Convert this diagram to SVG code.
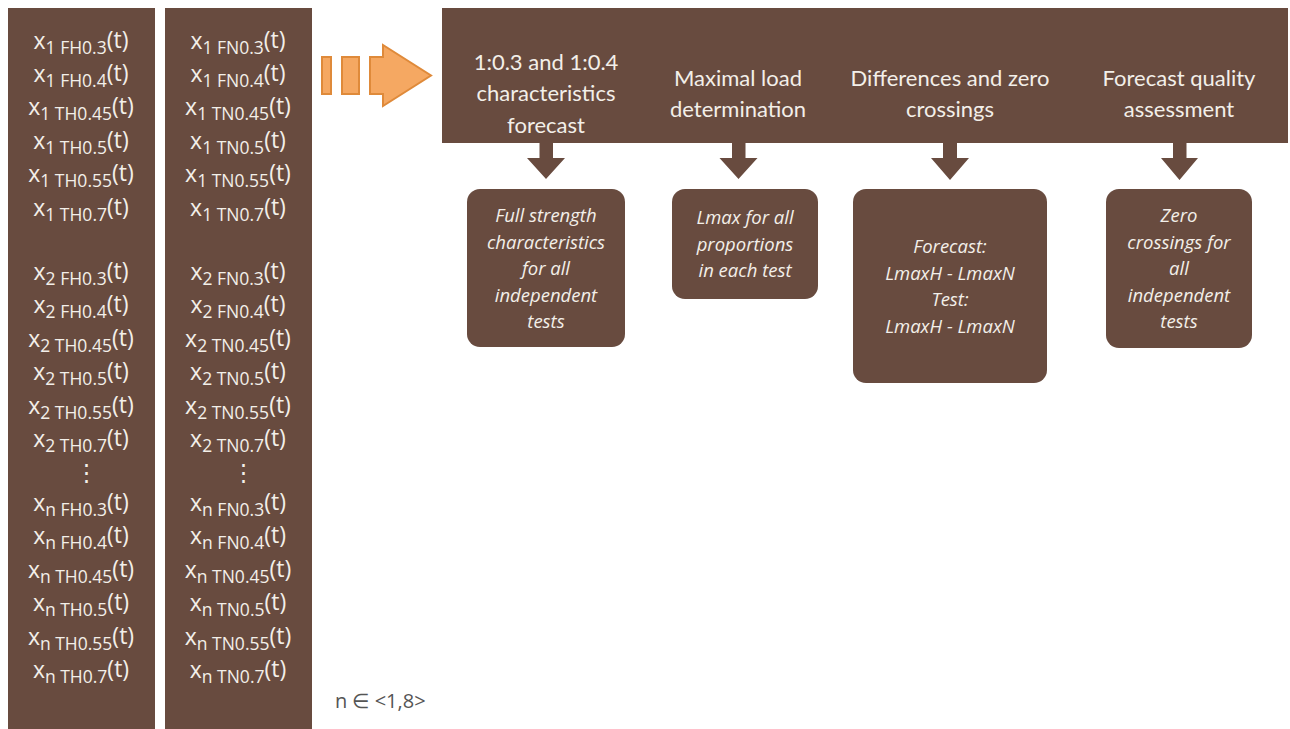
<svg xmlns="http://www.w3.org/2000/svg" width="1290" height="729" viewBox="0 0 1290 729">
<style>
.bg{fill:#684b3f}
.t{font-family:"Open Sans",Lato,sans-serif;fill:#f3efe9;text-anchor:middle}
.h{font-family:Lato,"Open Sans",sans-serif;font-size:22px}
.b{font-size:18.5px;font-style:italic;font-weight:500}
.v{font-size:23px}
.s{font-size:17.5px}
.note{font-family:"Open Sans",Lato,sans-serif;font-size:20px;fill:#555}
</style>
<rect width="1290" height="729" fill="#fff"/>
<g id="col-H">
<rect class="bg" x="8" y="8" width="147" height="730"/>
<text class="t v" x="81"><tspan y="49">x</tspan><tspan class="s" dy="5">1 FH0.3</tspan><tspan dy="-6">(t)</tspan></text>
<text class="t v" x="81"><tspan y="82">x</tspan><tspan class="s" dy="5">1 FH0.4</tspan><tspan dy="-6">(t)</tspan></text>
<text class="t v" x="81"><tspan y="115">x</tspan><tspan class="s" dy="5">1 TH0.45</tspan><tspan dy="-6">(t)</tspan></text>
<text class="t v" x="81"><tspan y="149">x</tspan><tspan class="s" dy="5">1 TH0.5</tspan><tspan dy="-6">(t)</tspan></text>
<text class="t v" x="81"><tspan y="182">x</tspan><tspan class="s" dy="5">1 TH0.55</tspan><tspan dy="-6">(t)</tspan></text>
<text class="t v" x="81"><tspan y="216">x</tspan><tspan class="s" dy="5">1 TH0.7</tspan><tspan dy="-6">(t)</tspan></text>
<text class="t v" x="81"><tspan y="280">x</tspan><tspan class="s" dy="5">2 FH0.3</tspan><tspan dy="-6">(t)</tspan></text>
<text class="t v" x="81"><tspan y="313">x</tspan><tspan class="s" dy="5">2 FH0.4</tspan><tspan dy="-6">(t)</tspan></text>
<text class="t v" x="81"><tspan y="347">x</tspan><tspan class="s" dy="5">2 TH0.45</tspan><tspan dy="-6">(t)</tspan></text>
<text class="t v" x="81"><tspan y="380">x</tspan><tspan class="s" dy="5">2 TH0.5</tspan><tspan dy="-6">(t)</tspan></text>
<text class="t v" x="81"><tspan y="414">x</tspan><tspan class="s" dy="5">2 TH0.55</tspan><tspan dy="-6">(t)</tspan></text>
<text class="t v" x="81"><tspan y="447">x</tspan><tspan class="s" dy="5">2 TH0.7</tspan><tspan dy="-6">(t)</tspan></text>
<text class="t v" x="86" y="480">⋮</text>
<text class="t v" x="81"><tspan y="511">x</tspan><tspan class="s" dy="5">n FH0.3</tspan><tspan dy="-6">(t)</tspan></text>
<text class="t v" x="81"><tspan y="544">x</tspan><tspan class="s" dy="5">n FH0.4</tspan><tspan dy="-6">(t)</tspan></text>
<text class="t v" x="81"><tspan y="578">x</tspan><tspan class="s" dy="5">n TH0.45</tspan><tspan dy="-6">(t)</tspan></text>
<text class="t v" x="81"><tspan y="611">x</tspan><tspan class="s" dy="5">n TH0.5</tspan><tspan dy="-6">(t)</tspan></text>
<text class="t v" x="81"><tspan y="645">x</tspan><tspan class="s" dy="5">n TH0.55</tspan><tspan dy="-6">(t)</tspan></text>
<text class="t v" x="81"><tspan y="678">x</tspan><tspan class="s" dy="5">n TH0.7</tspan><tspan dy="-6">(t)</tspan></text>
</g>
<g id="col-N">
<rect class="bg" x="165" y="8" width="147" height="730"/>
<text class="t v" x="238"><tspan y="49">x</tspan><tspan class="s" dy="5">1 FN0.3</tspan><tspan dy="-6">(t)</tspan></text>
<text class="t v" x="238"><tspan y="82">x</tspan><tspan class="s" dy="5">1 FN0.4</tspan><tspan dy="-6">(t)</tspan></text>
<text class="t v" x="238"><tspan y="115">x</tspan><tspan class="s" dy="5">1 TN0.45</tspan><tspan dy="-6">(t)</tspan></text>
<text class="t v" x="238"><tspan y="149">x</tspan><tspan class="s" dy="5">1 TN0.5</tspan><tspan dy="-6">(t)</tspan></text>
<text class="t v" x="238"><tspan y="182">x</tspan><tspan class="s" dy="5">1 TN0.55</tspan><tspan dy="-6">(t)</tspan></text>
<text class="t v" x="238"><tspan y="216">x</tspan><tspan class="s" dy="5">1 TN0.7</tspan><tspan dy="-6">(t)</tspan></text>
<text class="t v" x="238"><tspan y="280">x</tspan><tspan class="s" dy="5">2 FN0.3</tspan><tspan dy="-6">(t)</tspan></text>
<text class="t v" x="238"><tspan y="313">x</tspan><tspan class="s" dy="5">2 FN0.4</tspan><tspan dy="-6">(t)</tspan></text>
<text class="t v" x="238"><tspan y="347">x</tspan><tspan class="s" dy="5">2 TN0.45</tspan><tspan dy="-6">(t)</tspan></text>
<text class="t v" x="238"><tspan y="380">x</tspan><tspan class="s" dy="5">2 TN0.5</tspan><tspan dy="-6">(t)</tspan></text>
<text class="t v" x="238"><tspan y="414">x</tspan><tspan class="s" dy="5">2 TN0.55</tspan><tspan dy="-6">(t)</tspan></text>
<text class="t v" x="238"><tspan y="447">x</tspan><tspan class="s" dy="5">2 TN0.7</tspan><tspan dy="-6">(t)</tspan></text>
<text class="t v" x="243" y="480">⋮</text>
<text class="t v" x="238"><tspan y="511">x</tspan><tspan class="s" dy="5">n FN0.3</tspan><tspan dy="-6">(t)</tspan></text>
<text class="t v" x="238"><tspan y="544">x</tspan><tspan class="s" dy="5">n FN0.4</tspan><tspan dy="-6">(t)</tspan></text>
<text class="t v" x="238"><tspan y="578">x</tspan><tspan class="s" dy="5">n TN0.45</tspan><tspan dy="-6">(t)</tspan></text>
<text class="t v" x="238"><tspan y="611">x</tspan><tspan class="s" dy="5">n TN0.5</tspan><tspan dy="-6">(t)</tspan></text>
<text class="t v" x="238"><tspan y="645">x</tspan><tspan class="s" dy="5">n TN0.55</tspan><tspan dy="-6">(t)</tspan></text>
<text class="t v" x="238"><tspan y="678">x</tspan><tspan class="s" dy="5">n TN0.7</tspan><tspan dy="-6">(t)</tspan></text>
</g>
<g id="big-arrow" fill="#f5a862" stroke="#df8a3a" stroke-width="2">
<rect x="322" y="57" width="9" height="37"/>
<rect x="342" y="57" width="17" height="37"/>
<path d="M370,57 H383 V45 L431,75.5 L383,106 V94 H370 Z"/>
</g>
<g id="header">
<rect class="bg" x="442" y="8" width="846" height="135"/>
<text class="t h" x="546" y="70">1:0.3 and 1:0.4</text>
<text class="t h" x="546" y="101">characteristics</text>
<text class="t h" x="546" y="133">forecast</text>
<text class="t h" x="738" y="86">Maximal load</text>
<text class="t h" x="738" y="117">determination</text>
<text class="t h" x="950" y="86">Differences and zero</text>
<text class="t h" x="950" y="117">crossings</text>
<text class="t h" x="1179" y="86">Forecast quality</text>
<text class="t h" x="1179" y="117">assessment</text>
</g>
<g id="connectors" class="bg">
<path d="M539.5,143 H553 V158 H565 L546,179 L527,158 H539.5 Z"/>
<path d="M732,143 H745.5 V158 H757.5 L738.5,179 L719.5,158 H732 Z"/>
<path d="M943,143 H957 V158 H969 L950,180 L931,158 H943 Z"/>
<path d="M1173,143 H1186.5 V158 H1198 L1179.5,180 L1161,158 H1173 Z"/>
</g>
<g id="box1">
<rect class="bg" x="467" y="189" width="158" height="158" rx="13"/>
<text class="t b" x="546" y="222">Full strength</text>
<text class="t b" x="546" y="249">characteristics</text>
<text class="t b" x="546" y="275">for all</text>
<text class="t b" x="546" y="302">independent</text>
<text class="t b" x="546" y="328">tests</text>
</g>
<g id="box2">
<rect class="bg" x="672" y="189" width="146" height="110" rx="13"/>
<text class="t b" x="745" y="224">Lmax for all</text>
<text class="t b" x="745" y="251">proportions</text>
<text class="t b" x="745" y="277">in each test</text>
</g>
<g id="box3">
<rect class="bg" x="853" y="189" width="194" height="194" rx="13"/>
<text class="t b" x="950" y="253">Forecast:</text>
<text class="t b" x="950" y="280">LmaxH - LmaxN</text>
<text class="t b" x="950" y="306">Test:</text>
<text class="t b" x="950" y="333">LmaxH - LmaxN</text>
</g>
<g id="box4">
<rect class="bg" x="1106" y="189" width="146" height="159" rx="13"/>
<text class="t b" x="1179" y="222">Zero</text>
<text class="t b" x="1179" y="249">crossings for</text>
<text class="t b" x="1179" y="275">all</text>
<text class="t b" x="1179" y="302">independent</text>
<text class="t b" x="1179" y="328">tests</text>
</g>
<text class="note" x="335" y="708">n ∈ &lt;1,8&gt;</text>
</svg>
